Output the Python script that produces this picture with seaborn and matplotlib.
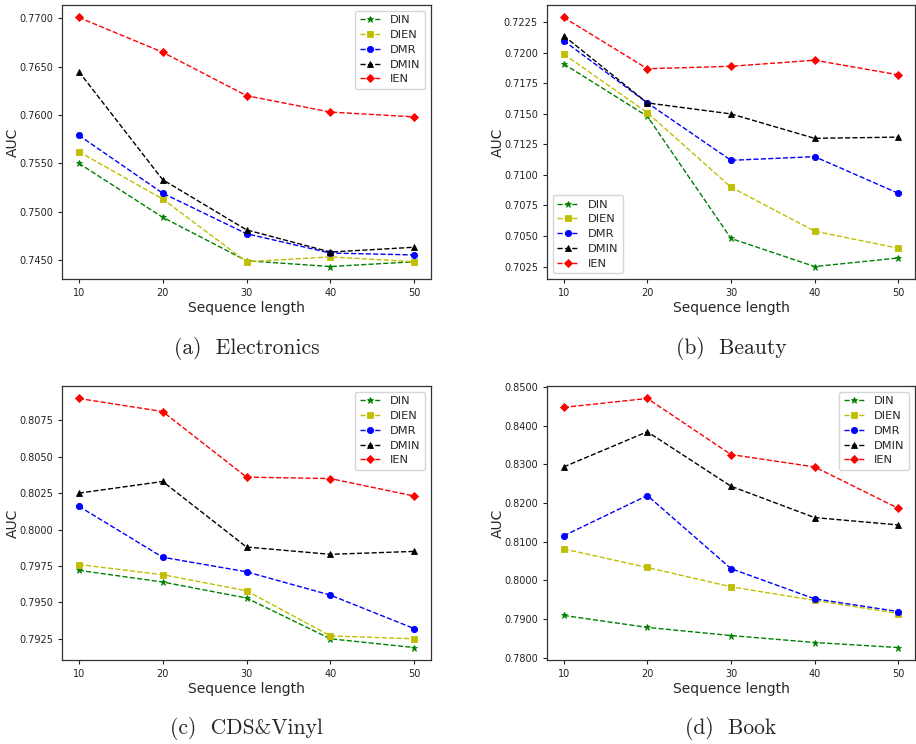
import numpy as np
import pandas as pd
import matplotlib
matplotlib.use("Agg")
import matplotlib.pyplot as plt
from matplotlib.ticker import MultipleLocator, FormatStrFormatter
import seaborn as sns

# sequence lengths on the x axis
seq_len = [10, 20, 30, 40, 50]
models = ["DIN", "DIEN", "DMR", "DMIN", "IEN"]

# AUC per dataset, one list per model (order as in `models`)
electronics = {
    "DIN":  [0.7550, 0.7494, 0.7449, 0.7443, 0.7448],
    "DIEN": [0.7562, 0.7513, 0.7448, 0.7453, 0.7448],
    "DMR":  [0.7579, 0.7519, 0.7477, 0.7457, 0.7455],
    "DMIN": [0.7645, 0.7533, 0.7481, 0.7458, 0.7463],
    "IEN":  [0.7701, 0.7665, 0.7620, 0.7603, 0.7598],
}
beauty = {
    "DIN":  [0.7191, 0.7148, 0.7048, 0.7025, 0.7032],
    "DIEN": [0.7199, 0.7151, 0.7090, 0.7054, 0.7040],
    "DMR":  [0.7210, 0.7159, 0.7112, 0.7115, 0.7085],
    "DMIN": [0.7214, 0.7159, 0.7150, 0.7130, 0.7131],
    "IEN":  [0.7229, 0.7187, 0.7189, 0.7194, 0.7182],
}
cds_vinyl = {
    "DIN":  [0.7972, 0.7964, 0.7953, 0.7925, 0.7919],
    "DIEN": [0.7976, 0.7969, 0.7958, 0.7927, 0.7925],
    "DMR":  [0.8016, 0.7981, 0.7971, 0.7955, 0.7932],
    "DMIN": [0.8025, 0.8033, 0.7988, 0.7983, 0.7985],
    "IEN":  [0.8090, 0.8081, 0.8036, 0.8035, 0.8023],
}
book = {
    "DIN":  [0.7909, 0.7878, 0.7857, 0.7839, 0.7826],
    "DIEN": [0.8081, 0.8033, 0.7983, 0.7948, 0.7914],
    "DMR":  [0.8115, 0.8219, 0.8030, 0.7952, 0.7919],
    "DMIN": [0.8293, 0.8384, 0.8243, 0.8162, 0.8143],
    "IEN":  [0.8447, 0.8470, 0.8325, 0.8293, 0.8186],
}

captions = ["(a)  Electronics", "(b)  Beauty", "(c)  CDS&Vinyl", "(d)  Book"]
tick_steps = [0.005, 0.0025, 0.0025, 0.01]
legend_locs = ["upper right", "lower left", "upper right", "upper right"]

colors = {"DIN": "g", "DIEN": "y", "DMR": "b", "DMIN": "k", "IEN": "r"}
markers = {"DIN": "*", "DIEN": "s", "DMR": "o", "DMIN": "^", "IEN": "D"}
msizes = {"DIN": 5, "DIEN": 4.5, "DMR": 4.5, "DMIN": 4.5, "IEN": 4.5}

sns.set_style("ticks")
plt.rcParams["font.family"] = ["DejaVu Sans"]

W, H = 916, 744
fig = plt.figure(figsize=(W / 100, H / 100), dpi=100)

# axes boxes in pixels: left, top, right, bottom
boxes = [(62, 5, 431, 279), (547, 5, 915, 279),
         (62, 386, 431, 660), (547, 386, 915, 660)]
datasets = [electronics, beauty, cds_vinyl, book]

for i, (data, box) in enumerate(zip(datasets, boxes)):
    l, t, r, b = box
    ax = fig.add_axes([l / W, 1 - b / H, (r - l) / W, (b - t) / H])
    for m in models:
        sns.lineplot(x=seq_len, y=data[m], color=colors[m], marker=markers[m],
                     markersize=msizes[m], linestyle="--", linewidth=1,
                     markeredgewidth=0.6, markeredgecolor=colors[m],
                     label=m, ax=ax)
    ax.set_xticks(seq_len)
    ax.yaxis.set_major_locator(MultipleLocator(tick_steps[i]))
    ax.yaxis.set_major_formatter(FormatStrFormatter("%.4f"))
    ax.tick_params(labelsize=7.0, length=3, width=0.8, colors="#222222")
    ax.set_xlabel("Sequence length", fontsize=10, labelpad=2)
    ax.set_ylabel("AUC", fontsize=10)
    ax.yaxis.set_label_coords(-0.115, 0.5)
    for s in ax.spines.values():
        s.set_color("#333333")
        s.set_linewidth(0.9)
    leg = ax.legend(loc=legend_locs[i], fontsize=8.2, numpoints=1,
                    frameon=True, fancybox=True, handlelength=1.9,
                    borderaxespad=0.5, labelspacing=0.42)
    leg.get_frame().set_edgecolor("#cccccc")
    # caption under the panel
    cx = (l + r) / 2 / W
    cy = 1 - (b + 69) / H
    fig.text(cx, cy, captions[i], ha="center", va="center",
             fontsize=15.5, family="cmr10")

fig.savefig("out.png", dpi=100)
